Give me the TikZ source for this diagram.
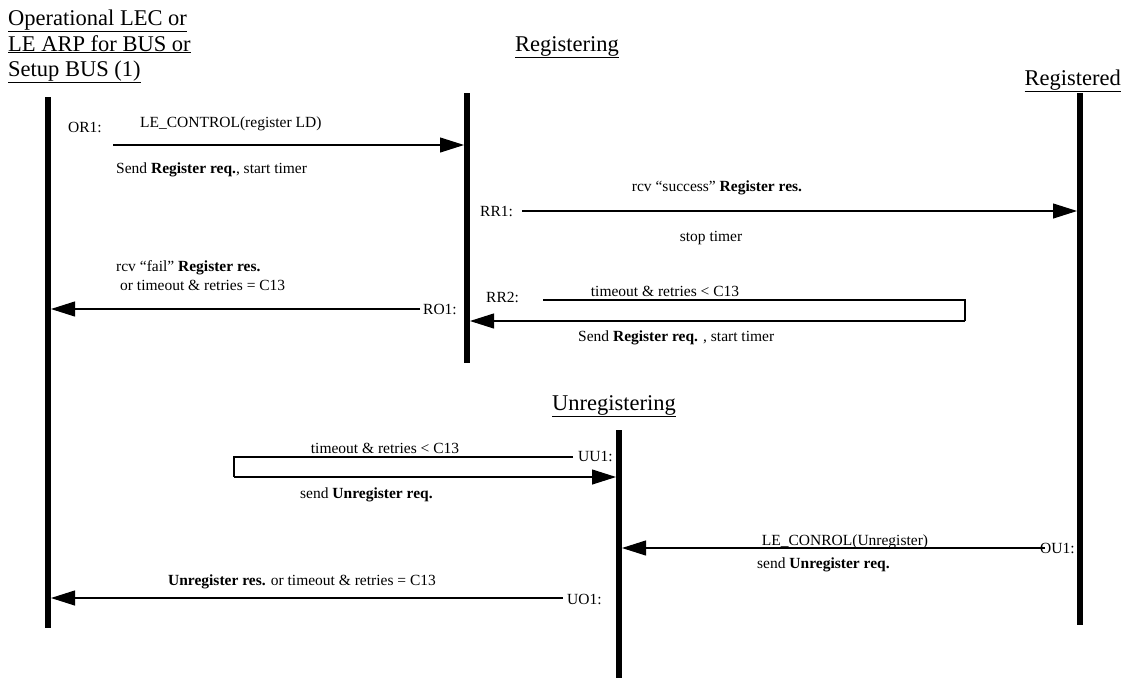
\documentclass[tikz,border=0pt]{standalone}
\usepackage{fontspec}
\setmainfont{Liberation Serif}
\usetikzlibrary{arrows.meta}
\begin{document}
\begin{tikzpicture}[x=1pt,y=-1pt,
  life/.style={line width=5.5pt},
  msg/.style={line width=1.1pt,-{Triangle[length=24pt,width=15pt]}},
  seg/.style={line width=1.1pt},
  lbl/.style={font=\fontsize{15.5}{17}\selectfont, inner sep=0pt},
  ttl/.style={font=\fontsize{22.5}{26}\selectfont, inner sep=0pt},
]
\useasboundingbox (0,0) rectangle (1125,681);
% titles
\node[ttl,anchor=base west] (t1) at (8,25) {\underline{Operational LEC or}};
\node[ttl,anchor=base west] (t2) at (8,51) {\underline{LE ARP for BUS or}};
\node[ttl,anchor=base west] (t3) at (8,76) {\underline{Setup BUS (1)}};
\node[ttl,anchor=base west] (treg) at (515,51) {\underline{Registering}};
\node[ttl,anchor=base east] (tred) at (1121,85) {\underline{Registered}};
\node[ttl,anchor=base] (tunr) at (614,410) {\underline{Unregistering}};
% lifelines
\coordinate (L1a) at (48,97);   \coordinate (L1b) at (48,628);
\coordinate (L2a) at (467,93);  \coordinate (L2b) at (467,363);
\coordinate (L3a) at (1080,93); \coordinate (L3b) at (1080,625);
\coordinate (L4a) at (619,430); \coordinate (L4b) at (619,678);
\draw[life] (L1a) -- (L1b);
\draw[life] (L2a) -- (L2b);
\draw[life] (L3a) -- (L3b);
\draw[life] (L4a) -- (L4b);
% OR1
\node[lbl,anchor=base west] (or1) at (68,132) {OR1:};
\node[lbl,anchor=base west] (or1t) at (140,127) {LE\_CONTROL(register LD)};
\node[lbl,anchor=base west] (or1b) at (116,173) {Send \textbf{Register req.}, start timer};
\coordinate (or1s) at (113,145); \coordinate (or1e) at (464,145);
\draw[msg] (or1s) -- (or1e);
% RR1
\node[lbl,anchor=base west] (rr1) at (480,216) {RR1:};
\node[lbl,anchor=base] (rr1t) at (717,191) {rcv “success” \textbf{Register res.}};
\node[lbl,anchor=base] (rr1b) at (711,241) {stop timer};
\coordinate (rr1s) at (522,211); \coordinate (rr1e) at (1077,211);
\draw[msg] (rr1s) -- (rr1e);
% RO1
\node[lbl,anchor=base west] (ro1t1) at (116,271) {rcv “fail” \textbf{Register res.}};
\node[lbl,anchor=base west] (ro1t2) at (120,290) {or timeout \& retries = C13};
\node[lbl,anchor=base west] (ro1) at (423,314) {RO1:};
\coordinate (ro1s) at (420,309); \coordinate (ro1e) at (51,309);
\draw[msg] (ro1s) -- (ro1e);
% RR2
\node[lbl,anchor=base west] (rr2) at (486,302) {RR2:};
\node[lbl,anchor=base] (rr2t) at (665,296) {timeout \& retries < C13};
\node[lbl,anchor=base west] (rr2b) at (578,341) {Send \textbf{Register req.} , start timer};
\coordinate (rr2s) at (543,300); \coordinate (rr2c) at (965,300);
\coordinate (rr2d) at (965,321); \coordinate (rr2e) at (470,321);
\draw[seg] (rr2s) -- (rr2c) -- (rr2d);
\draw[msg] (rr2d) -- (rr2e);
% UU1
\node[lbl,anchor=base] (uu1t) at (385,453) {timeout \& retries < C13};
\node[lbl,anchor=base west] (uu1) at (578,461) {UU1:};
\node[lbl,anchor=base west] (uu1b) at (300,498) {send \textbf{Unregister req.}};
\coordinate (uu1s) at (573,457); \coordinate (uu1c) at (234,457);
\coordinate (uu1d) at (234,477); \coordinate (uu1e) at (616,477);
\draw[seg] (uu1s) -- (uu1c) -- (uu1d);
\draw[msg] (uu1d) -- (uu1e);
% OU1
\node[lbl,anchor=base] (ou1t) at (845,545) {LE\_CONROL(Unregister)};
\node[lbl,anchor=base west] (ou1) at (1040,553) {OU1:};
\node[lbl,anchor=base west] (ou1b) at (757,568) {send \textbf{Unregister req.}};
\coordinate (ou1s) at (1045,548); \coordinate (ou1e) at (622,548);
\draw[msg] (ou1s) -- (ou1e);
% UO1
\node[lbl,anchor=base] (uo1t) at (302,585) {\textbf{Unregister res.} or timeout \& retries = C13};
\node[lbl,anchor=base west] (uo1) at (567,604) {UO1:};
\coordinate (uo1s) at (563,598); \coordinate (uo1e) at (51,598);
\draw[msg] (uo1s) -- (uo1e);
\end{tikzpicture}
\end{document}
